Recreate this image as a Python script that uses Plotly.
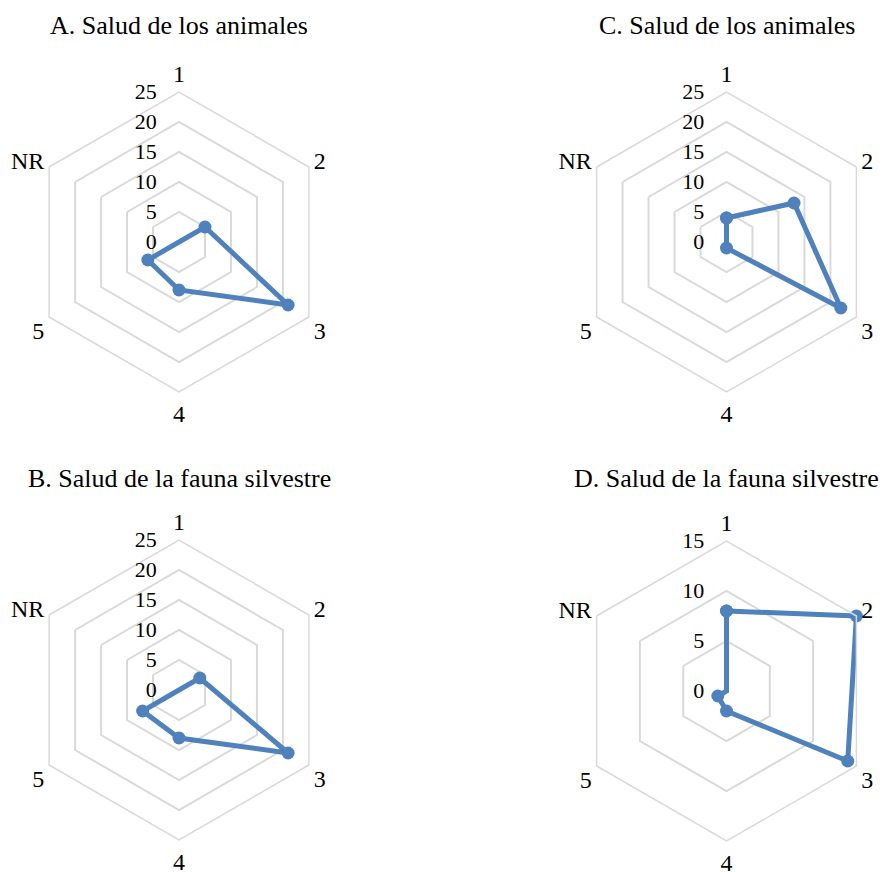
import plotly.graph_objects as go

# Category axis (clockwise from the top)
categories = ["1", "2", "3", "4", "5", "NR"]

# Responses per category for each panel
salud_animales_a = [0, 5, 21, 8, 6, 0]
fauna_silvestre_b = [0, 4, 21, 8, 7, 0]
salud_animales_c = [4, 13, 22, 1, 0, 0]
fauna_silvestre_d = [8, 15, 14, 2, 1, 0]

titles = {
    "A": "A. Salud de los animales",
    "B": "B. Salud de la fauna silvestre",
    "C": "C. Salud de los animales",
    "D": "D. Salud de la fauna silvestre",
}

W, H = 884, 872
BLUE = "#4f81bd"
GRID = "#d9d9d9"
FONT = "'Liberation Serif', 'Times New Roman', serif"

fig = go.Figure()

# (values, polar id, centre x px, centre y px, radius px, radial max, key)
panels = [
    (salud_animales_a, "polar", 179, 242, 150, 25, "A"),
    (fauna_silvestre_b, "polar2", 179, 690, 150, 25, "B"),
    (salud_animales_c, "polar3", 726.5, 242, 150, 25, "C"),
    (fauna_silvestre_d, "polar4", 726.5, 691, 150, 15, "D"),
]

for vals, pid, cx, cy, rad, rmax, key in panels:
    fig.add_trace(go.Scatterpolar(
        r=vals + vals[:1],
        theta=categories + categories[:1],
        mode="lines+markers",
        line=dict(color=BLUE, width=5),
        marker=dict(color=BLUE, size=13),
        subplot=pid,
        showlegend=False,
        hoverinfo="skip",
    ))
    dom_x = [(cx - rad) / W, (cx + rad) / W]
    dom_y = [(H - (cy + rad)) / H, (H - (cy - rad)) / H]
    fig.layout[pid] = dict(
        domain=dict(x=dom_x, y=dom_y),
        gridshape="linear",
        bgcolor="white",
        radialaxis=dict(
            range=[0, rmax],
            dtick=5,
            tick0=0,
            angle=90,
            side="counterclockwise",
            showline=False,
            ticks="outside",
            ticklen=14,
            tickcolor="rgba(0,0,0,0)",
            gridcolor=GRID,
            gridwidth=1.5,
            tickfont=dict(family=FONT, size=22, color="black"),
            tickangle=90,
        ),
        angularaxis=dict(
            categoryorder="array",
            categoryarray=categories,
            rotation=90,
            direction="clockwise",
            showgrid=False,
            showline=True,
            linecolor=GRID,
            linewidth=1.5,
            ticks="",
            tickfont=dict(family=FONT, size=24, color="black"),
        ),
    )
    fig.add_annotation(
        text=titles[key],
        x=cx / W, y=(H - 25) / H if key in "AC" else (H - 478) / H,
        xref="paper", yref="paper",
        xanchor="center", yanchor="middle",
        showarrow=False,
        font=dict(family=FONT, size=26, color="black"),
    )

fig.update_layout(
    width=W, height=H,
    margin=dict(l=0, r=0, t=0, b=0),
    paper_bgcolor="white",
    plot_bgcolor="white",
)

fig.write_html("out.html")
